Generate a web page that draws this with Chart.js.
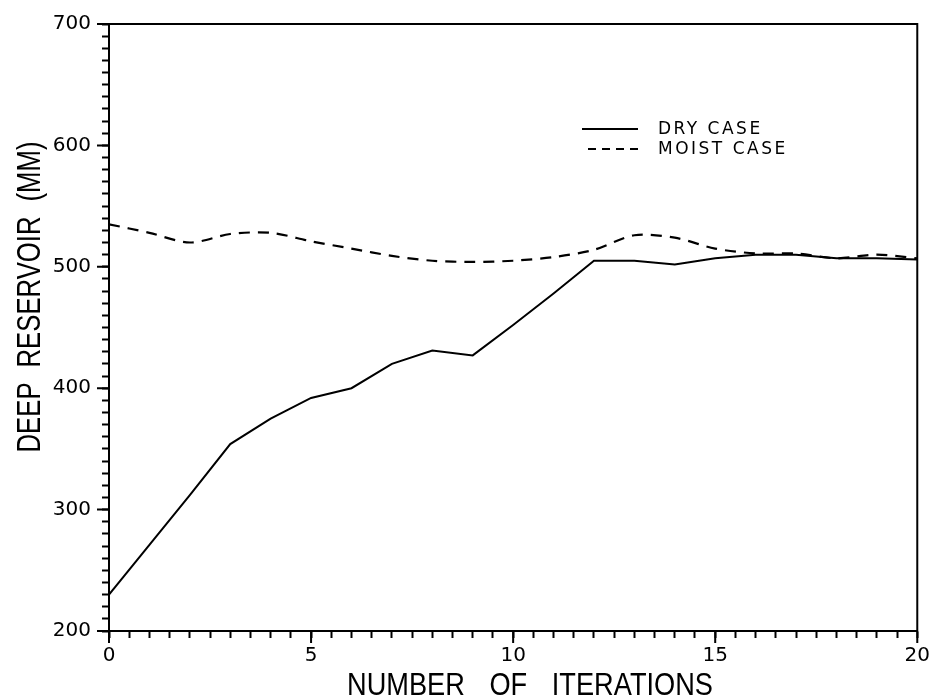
<!DOCTYPE html>
<html>
<head>
<meta charset="utf-8">
<script src="https://cdn.jsdelivr.net/npm/chart.js@4.4.1/dist/chart.umd.min.js"></script>
<style>
  html, body { margin: 0; padding: 0; background: #fff; }
  #wrap { width: 936px; height: 698px; position: relative; }
</style>
</head>
<body>
<div id="wrap"><canvas id="chart"></canvas></div>
<script>
// values
const iterations = [0, 1, 2, 3, 4, 5, 6, 7, 8, 9, 10, 11, 12, 13, 14, 15, 16, 17, 18, 19, 20];
const dryCase = [230, 271, 312, 354, 375, 392, 400, 420, 431, 427, 452, 478, 505, 505, 502, 507, 510, 510, 507, 507, 506];
const moistCase = [535, 528, 520, 527, 528, 521, 515, 509, 505, 504, 505, 508, 514, 526, 524, 515, 511, 511, 507, 510, 507];
const xMajorTicks = [0, 5, 10, 15, 20];
const yMajorTicks = [200, 300, 400, 500, 600, 700];

const xTitle = "NUMBER OF ITERATIONS";
const yTitle = "DEEP RESERVOIR (MM)";

const INK = "#000";

// longer marks at the labelled ticks, drawn outward from the axes
const majorTicks = {
  id: "majorTicks",
  afterDraw(chart) {
    const { ctx, chartArea, scales } = chart;
    ctx.save();
    ctx.strokeStyle = INK;
    ctx.lineWidth = 2;
    ctx.beginPath();
    xMajorTicks.forEach(v => {
      const px = scales.x.getPixelForValue(v);
      ctx.moveTo(px, chartArea.bottom);
      ctx.lineTo(px, chartArea.bottom + 12);
    });
    yMajorTicks.forEach(v => {
      const py = scales.y.getPixelForValue(v);
      ctx.moveTo(chartArea.left, py);
      ctx.lineTo(chartArea.left - 12, py);
    });
    ctx.stroke();
    // frame round the plot
    ctx.strokeRect(chartArea.left, chartArea.top, chartArea.right - chartArea.left, chartArea.bottom - chartArea.top);
    ctx.restore();
  }
};

// plotter lettering: narrow letters, wide gaps between words
function spacedText(ctx, text, cx, cy, width, font, squeeze, angle) {
  ctx.save();
  ctx.font = font;
  ctx.fillStyle = INK;
  ctx.textAlign = "left";
  ctx.textBaseline = "alphabetic";
  ctx.translate(cx, cy);
  if (angle) ctx.rotate(angle);
  const words = text.split(" ");
  const widths = words.map(w => ctx.measureText(w).width * squeeze);
  const used = widths.reduce((a, b) => a + b, 0);
  const gap = (width - used) / (words.length - 1);
  let x = -width / 2;
  words.forEach((w, i) => {
    ctx.save();
    ctx.translate(x, 0);
    ctx.scale(squeeze, 1);
    ctx.fillText(w, 0, 0);
    ctx.restore();
    x += widths[i] + gap;
  });
  ctx.restore();
}

const axisTitles = {
  id: "axisTitles",
  afterDraw(chart) {
    const ctx = chart.ctx;
    spacedText(ctx, xTitle, 530, 695, 366, "32px 'Liberation Sans', Arial, sans-serif", 0.85, 0);
    spacedText(ctx, yTitle, 40, 297, 311, "33px 'Liberation Sans', Arial, sans-serif", 0.78, -Math.PI / 2);
  }
};

// legend in the upper right of the plot
const plotLegend = {
  id: "plotLegend",
  afterDraw(chart) {
    const ctx = chart.ctx;
    const rows = [
      { x0: 582, x1: 638, y: 129 },
      { x0: 588, x1: 640, y: 149 }
    ];
    ctx.save();
    chart.data.datasets.forEach((ds, i) => {
      const r = rows[i];
      ctx.strokeStyle = ds.borderColor;
      ctx.lineWidth = 2;
      ctx.setLineDash(i === 1 ? [8, 6] : []);
      ctx.beginPath();
      ctx.moveTo(r.x0, r.y);
      ctx.lineTo(r.x1, r.y);
      ctx.stroke();
      ctx.setLineDash([]);
      ctx.font = "17px 'DejaVu Sans', sans-serif";
      ctx.letterSpacing = "2.5px";
      ctx.fillStyle = INK;
      ctx.textAlign = "left";
      ctx.textBaseline = "middle";
      ctx.fillText(ds.label, 658, r.y + 1);
    });
    ctx.restore();
  }
};

new Chart(document.getElementById("chart"), {
  type: "line",
  data: {
    labels: iterations,
    datasets: [
      {
        label: "DRY CASE",
        data: dryCase,
        borderColor: INK,
        borderWidth: 2,
        pointRadius: 0,
        tension: 0,
        fill: false
      },
      {
        label: "MOIST CASE",
        data: moistCase,
        borderColor: INK,
        borderWidth: 2.2,
        borderDash: [11, 8],
        pointRadius: 0,
        tension: 0.3,
        fill: false
      }
    ]
  },
  options: {
    responsive: true,
    maintainAspectRatio: false,
    animation: false,
    layout: { padding: { top: 24, right: 18, left: 0, bottom: 0 } },
    scales: {
      x: {
        type: "linear",
        min: 0,
        max: 20,
        afterFit: s => { s.height = 67; },
        border: { display: true, color: INK, width: 2 },
        grid: { drawOnChartArea: false, drawTicks: true, tickLength: 7, tickColor: INK, tickWidth: 2 },
        ticks: {
          stepSize: 0.5,
          autoSkip: false,
          maxRotation: 0,
          padding: 6,
          color: INK,
          font: { family: "'DejaVu Sans', sans-serif", size: 20 },
          callback: v => (xMajorTicks.includes(v) ? String(v) : "")
        }
      },
      y: {
        min: 200,
        max: 700,
        afterFit: s => { s.width = 109; },
        border: { display: true, color: INK, width: 2 },
        grid: { drawOnChartArea: false, drawTicks: true, tickLength: 7, tickColor: INK, tickWidth: 2 },
        ticks: {
          stepSize: 10,
          autoSkip: false,
          padding: 11,
          color: INK,
          font: { family: "'DejaVu Sans', sans-serif", size: 20 },
          callback: v => (yMajorTicks.includes(v) ? String(v) : "")
        }
      }
    },
    plugins: {
      legend: { display: false },
      tooltip: { enabled: false }
    }
  },
  plugins: [majorTicks, axisTitles, plotLegend]
});
</script>
</body>
</html>
